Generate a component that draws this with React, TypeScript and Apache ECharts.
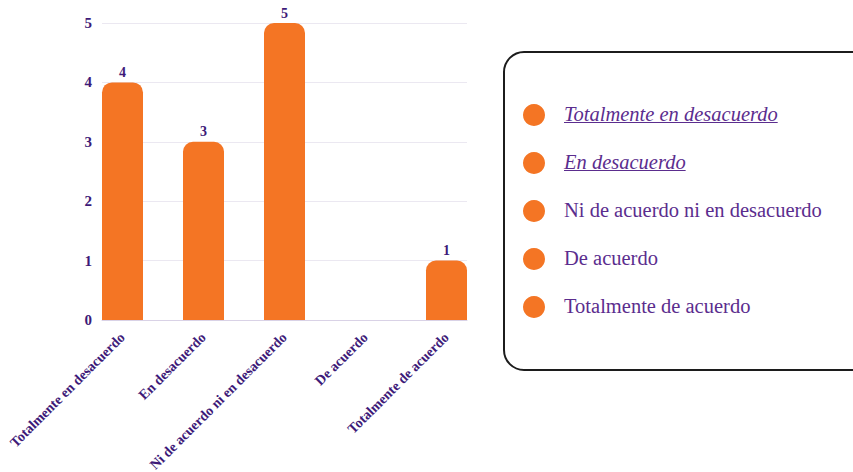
import React, { useEffect, useRef } from "react";
import * as echarts from "echarts";

const categories = [
  "Totalmente en desacuerdo",
  "En desacuerdo",
  "Ni de acuerdo ni en desacuerdo",
  "De acuerdo",
  "Totalmente de acuerdo",
];
const values = [4, 3, 5, 0, 1];
const yTicks = [0, 1, 2, 3, 4, 5];

const ORANGE = "#f47524";
const AXIS_PURPLE = "#3d1a78";
const LEGEND_PURPLE = "#5b2d8e";
const SERIF = "'Liberation Serif', 'DejaVu Serif', serif";

function measure(text: string, font: string): number {
  const c = document.createElement("canvas").getContext("2d");
  if (!c) return text.length * 9;
  c.font = font;
  return c.measureText(text).width;
}

export default function App() {
  const ref = useRef<HTMLDivElement>(null);
  useEffect(() => {
    if (!ref.current) return;
    const chart = echarts.init(ref.current, undefined, { renderer: "svg" });

    const legendX = 504;
    const legendY = 52;
    const rowStart = 115;
    const rowGap = 48;
    const emphasized = [true, true, false, false, false];
    const legendChildren: any[] = [
      {
        type: "rect",
        shape: { x: legendX, y: legendY, width: 370, height: 318, r: 20 },
        style: { fill: "#fff", stroke: "#1c1c1c", lineWidth: 2 },
      },
    ];
    categories.forEach((c, i) => {
      const y = rowStart + i * rowGap;
      const font = `${emphasized[i] ? "italic " : ""}20.5px ${SERIF}`;
      legendChildren.push({
        type: "circle",
        shape: { cx: 534, cy: y, r: 11 },
        style: { fill: ORANGE },
      });
      legendChildren.push({
        type: "text",
        x: 564,
        y: y - 1,
        style: {
          text: c,
          fill: LEGEND_PURPLE,
          font,
          verticalAlign: "middle",
          align: "left",
        },
      });
      if (emphasized[i]) {
        const w = measure(c, font);
        legendChildren.push({
          type: "line",
          shape: { x1: 564, y1: y + 7.5, x2: 564 + w, y2: y + 7.5 },
          style: { stroke: LEGEND_PURPLE, lineWidth: 1.2 },
        });
      }
    });

    chart.setOption({
      animation: false,
      grid: [
        { left: 102, right: 386, top: 23, bottom: 152, containLabel: false, outerBoundsMode: "none" },
        { left: 82, right: 366, top: 23, bottom: 152, containLabel: false, outerBoundsMode: "none" },
      ],
      xAxis: [
        {
          gridIndex: 0,
          type: "category",
          data: categories,
          axisLine: { show: true, lineStyle: { color: "#d9d2e6", width: 1 } },
          axisTick: { show: false },
          axisLabel: { show: false },
          splitLine: { show: false },
        },
        {
          gridIndex: 1,
          type: "category",
          data: categories,
          axisLine: { show: false },
          axisTick: { show: false },
          axisLabel: {
            rotate: 45,
            margin: 15,
            interval: 0,
            color: AXIS_PURPLE,
            fontFamily: SERIF,
            fontWeight: "bold",
            fontSize: 14,
          },
        },
      ],
      yAxis: [
        {
          gridIndex: 0,
          type: "value",
          min: yTicks[0],
          max: yTicks[yTicks.length - 1],
          interval: 1,
          axisLine: { show: false },
          axisTick: { show: false },
          axisLabel: {
            margin: 10,
            color: AXIS_PURPLE,
            fontFamily: SERIF,
            fontWeight: "bold",
            fontSize: 15,
          },
          splitLine: { show: true, lineStyle: { color: "#ebe8f1", width: 1 } },
        },
        {
          gridIndex: 1,
          type: "value",
          min: yTicks[0],
          max: yTicks[yTicks.length - 1],
          interval: 1,
          show: false,
          splitLine: { show: false },
        },
      ],
      series: [
        {
          type: "bar",
          xAxisIndex: 1,
          yAxisIndex: 1,
          data: values.map((v) => (v === 0 ? null : v)),
          barWidth: 41,
          itemStyle: { color: ORANGE, borderRadius: [10, 10, 0, 0] },
          label: {
            show: true,
            position: "top",
            distance: 3,
            color: AXIS_PURPLE,
            fontFamily: SERIF,
            fontWeight: "bold",
            fontSize: 14,
          },
        },
      ],
      graphic: [{ type: "group", children: legendChildren }],
    });
    return () => chart.dispose();
  }, []);
  return (
    <div
      ref={ref}
      style={{ position: "absolute", left: 0, top: 0, width: 853, height: 472 }}
    />
  );
}
